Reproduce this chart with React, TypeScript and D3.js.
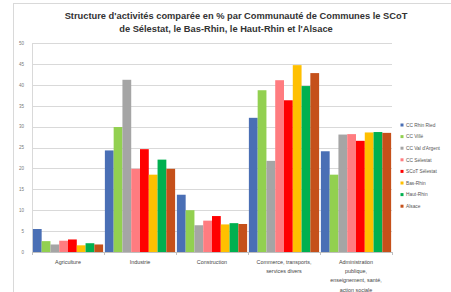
import React from 'react';
import * as d3 from 'd3';

const categories = [
  ['Agriculture'],
  ['Industrie'],
  ['Construction'],
  ['Commerce, transports,', 'services divers'],
  ['Administration', 'publique,', 'enseignement, santé,', 'action sociale'],
];

const seriesNames = [
  'CC Rhin Ried',
  'CC Villé',
  "CC Val d'Argent",
  'CC Sélestat',
  'SCoT Sélestat',
  'Bas-Rhin',
  'Haut-Rhin',
  'Alsace',
];

const seriesColors = ['#4a6fb5', '#92d050', '#a5a5a5', '#ff7c80', '#ff0000', '#ffc000', '#00b050', '#c5501a'];

// values per series, one per category
const ccRhinRied = [5.5, 24.3, 13.7, 32.1, 24.1];
const ccVille = [2.6, 29.9, 10.0, 38.7, 18.5];
const ccValArgent = [1.8, 41.2, 6.4, 21.8, 28.1];
const ccSelestat = [2.7, 19.9, 7.5, 41.1, 28.2];
const scotSelestat = [3.0, 24.6, 8.6, 36.3, 26.6];
const basRhin = [1.6, 18.5, 6.6, 44.7, 28.6];
const hautRhin = [2.1, 22.1, 6.9, 39.7, 28.7];
const alsace = [1.8, 19.9, 6.7, 42.8, 28.5];

const seriesValues = [ccRhinRied, ccVille, ccValArgent, ccSelestat, scotSelestat, basRhin, hautRhin, alsace];
const yTicks = [0, 5, 10, 15, 20, 25, 30, 35, 40, 45, 50];

const W = 451;
const H = 292;
const plot = { left: 32, right: 392, top: 43, bottom: 252 };

export default function App() {
  const x0 = d3.scaleBand<number>()
    .domain(categories.map((_, i) => i))
    .range([plot.left, plot.right])
    .paddingInner(0)
    .paddingOuter(0);
  const x1 = d3.scaleBand<number>()
    .domain(seriesNames.map((_, i) => i))
    .range([0, x0.bandwidth()])
    .paddingInner(0)
    .paddingOuter(0.1);
  const y = d3.scaleLinear().domain([0, 50]).range([plot.bottom, plot.top]);

  const font = 'Liberation Sans, Arial, sans-serif';

  return (
    <div style={{ position: 'fixed', left: 0, top: 0, width: W, height: H, background: '#fff' }}>
      <svg width={W} height={H} style={{ display: 'block', fontFamily: font }}>
        <rect x={0} y={0} width={W} height={H} fill="#fff" />
        <rect x={13.5} y={3.5} width={W - 12} height={H - 2} fill="none" stroke="#d9d9d9" />
        <text x={236} y={19} textAnchor="middle" fontSize={9.3} fontWeight="bold" fill="#333">
          Structure d'activités comparée en % par Communauté de Communes le SCoT
        </text>
        <text x={226} y={32} textAnchor="middle" fontSize={9.3} fontWeight="bold" fill="#333">
          de Sélestat, le Bas-Rhin, le Haut-Rhin et l'Alsace
        </text>

        {yTicks.map(t => (
          <g key={t}>
            <line x1={plot.left} x2={plot.right} y1={Math.round(y(t)) + 0.5} y2={Math.round(y(t)) + 0.5}
              stroke={t === 0 ? '#bfbfbf' : '#d9d9d9'} />
            <text x={24} y={y(t) + 1.8} textAnchor="end" fontSize={4.5} fill="#777">{t}</text>
          </g>
        ))}
        <line x1={plot.left + 0.5} x2={plot.left + 0.5} y1={plot.top} y2={plot.bottom} stroke="#d9d9d9" />
        {d3.range(categories.length + 1).map(i => {
          const xx = Math.round(plot.left + i * x0.step()) + 0.5;
          return <line key={i} x1={xx} x2={xx} y1={plot.bottom} y2={plot.bottom + 3} stroke="#bfbfbf" />;
        })}

        {categories.map((_, ci) => (
          <g key={ci} transform={`translate(${x0(ci)},0)`}>
            {seriesValues.map((vals, si) => (
              <rect key={si} x={x1(si)} y={y(vals[ci])} width={x1.bandwidth()}
                height={y(0) - y(vals[ci])} fill={seriesColors[si]} />
            ))}
          </g>
        ))}

        {categories.map((lines, ci) => (
          <text key={ci} x={(x0(ci) ?? 0) + x0.bandwidth() / 2} textAnchor="middle" fontSize={5.4} fill="#444">
            {lines.map((l, li) => (
              <tspan key={li} x={(x0(ci) ?? 0) + x0.bandwidth() / 2} y={264 + li * 9.2}>{l}</tspan>
            ))}
          </text>
        ))}

        {seriesNames.map((name, si) => (
          <g key={si} transform={`translate(402,${125 + si * 11.6})`}>
            <rect x={-1.5} y={-1.5} width={3} height={3} fill={seriesColors[si]} />
            <text x={4} y={1.8} fontSize={4.8} fill="#555">{name}</text>
          </g>
        ))}
      </svg>
    </div>
  );
}
